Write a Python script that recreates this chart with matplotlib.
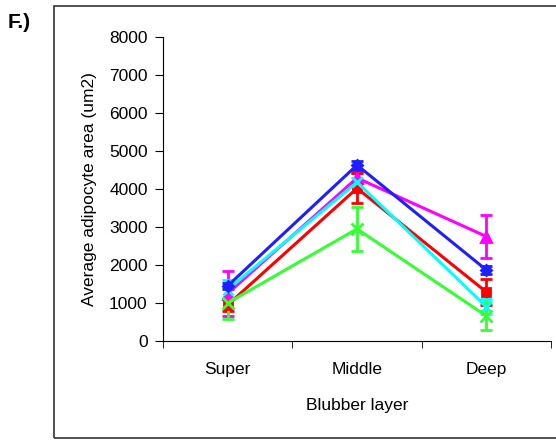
"""Average adipocyte area by blubber layer (panel F)."""
import matplotlib

matplotlib.use("Agg")
import matplotlib.pyplot as plt  # noqa: E402
from matplotlib.patches import Rectangle  # noqa: E402

plt.rcParams["font.family"] = ["Liberation Sans", "DejaVu Sans"]

layers = ["Super", "Middle", "Deep"]
y_ticks = [0, 1000, 2000, 3000, 4000, 5000, 6000, 7000, 8000]

# mean area and error per series
magenta_mean = [1250, 4290, 2750]
magenta_err = [580, 120, 560]
red_mean = [950, 4020, 1290]
red_err = [150, 400, 350]
cyan_mean = [1350, 4180, 900]
cyan_err = [250, 100, 200]
green_mean = [1000, 2950, 660]
green_err = [420, 580, 370]
blue_mean = [1450, 4630, 1870]
blue_err = [80, 120, 100]

series = [
    (magenta_mean, magenta_err, "#FF00FF", "^", 7),
    (red_mean, red_err, "#FF0000", "s", 6),
    (cyan_mean, cyan_err, "#00FFFF", "x", 7),
    (green_mean, green_err, "#33FF33", "x", 8),
    (blue_mean, blue_err, "#1E1EFF", "D", 5),
]

FS = 12.5

fig = plt.figure(figsize=(5.56, 4.41), dpi=100)
ax = fig.add_axes([163 / 556, 100 / 441, 388 / 556, 304 / 441])

xs = range(len(layers))
for mean, err, color, marker, size in series:
    ax.errorbar(xs, mean, yerr=err, color=color, marker=marker, markersize=size,
                markeredgewidth=2, linewidth=2.2, capsize=4, capthick=2, elinewidth=2)

ax.set_xlim(-0.5, 2.5)
ax.set_ylim(0, 8000)
ax.set_yticks(y_ticks)
ax.set_xticks(xs)
ax.set_xticklabels(layers)
ax.set_xticks([-0.5, 0.5, 1.5, 2.5], minor=True)
ax.tick_params(axis="x", which="major", length=0, pad=15, labelsize=FS)
ax.tick_params(axis="x", which="minor", length=5, direction="out")
ax.tick_params(axis="y", length=6, direction="out", pad=5, labelsize=FS)
ax.spines["top"].set_visible(False)
ax.spines["right"].set_visible(False)
ax.set_ylabel("Average adipocyte area (um2)", fontsize=FS, labelpad=9)
ax.set_xlabel("Blubber layer", fontsize=FS, labelpad=15)

# outer frame around the chart
fig.patches.append(Rectangle((54 / 556, 3 / 441), 0.99, 432 / 441,
                             transform=fig.transFigure, fill=False,
                             edgecolor="#333333", linewidth=1.2))
fig.text(8 / 556, 1 - 23 / 441, "F.)", fontsize=15, fontweight="bold",
         va="center")

fig.savefig("out.png", dpi=100)
